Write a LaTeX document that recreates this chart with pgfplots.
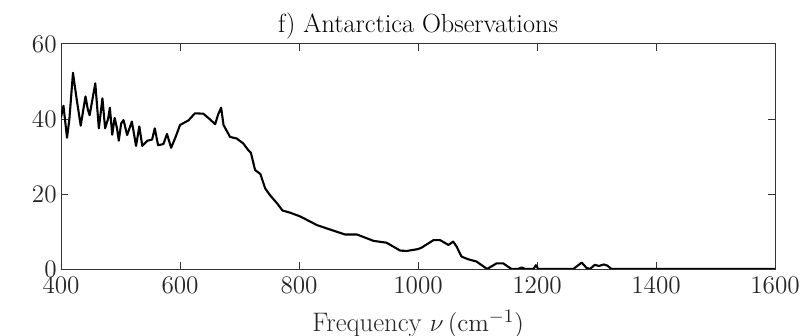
\documentclass[border=0pt]{standalone}
\usepackage{pgfplots}
\pgfplotsset{compat=1.18}
\begin{document}
\begin{tikzpicture}
\path[use as bounding box] (-34.9pt,-38.3pt) rectangle (425.1pt,153.7pt);
\begin{axis}[
  at={(0,0)}, anchor=south west,
  scale only axis, width=408pt, height=128.6pt,
  xmin=400, xmax=1600, ymin=0, ymax=60,
  xtick={400,600,...,1600}, ytick={0,20,40,60},
  tick align=inside, tick pos=both,
  major tick length=4pt,
  axis line style={black!80, line width=0.5pt},
  every tick/.style={black!80, line width=0.5pt},
  tick label style={black!85, font=\fontsize{13.5}{15}\selectfont},
  xticklabel style={/pgf/number format/1000 sep={}, yshift=-1pt},
  yticklabel style={xshift=1pt},
  title={f) Antarctica Observations},
  title style={font=\fontsize{15}{17}\selectfont, yshift=-7pt},
  xlabel={Frequency $\nu\,(\mathrm{cm}^{-1})$},
  xlabel style={black!85, font=\fontsize{15.3}{17}\selectfont, yshift=-3pt},
]
\addplot[black, line width=1.2pt, line join=round, mark=none] coordinates {
(400,40.5) (404,43.5) (410,35) (414,40) (420,52.3) (426,45.5) (433,38.2)
(441,46) (445,42.5) (448,41) (457.5,49.5) (463.5,37.5) (469.5,45.5)
(474,37.5) (479,40) (482,43) (486,35.8) (490,40.3) (494,37.5) (497,34.2)
(501,38.8) (505,39.7) (511,35.7) (519,39.3) (526,32.8) (531.5,38)
(536.5,32.8) (545,34.2) (553,34.5) (557.5,37.5) (563,33) (572,33.3)
(578,36) (585,32.3) (592,35) (600,38.4) (614,39.6) (625,41.5) (639,41.4)
(648,40.2) (659,38.6) (664,41.2) (669,43) (673,38.4) (684,35.2) (695,34.8)
(706,33.5) (714,31.8) (719,31) (726,26.4) (735,25.3) (743,21.5) (751,19.7)
(763,17.5) (772,15.6) (785,15) (802,14) (830,11.7) (858,10.2) (877,9.2)
(897,9.2) (925,7.5) (947,7) (970,4.9) (981,4.8) (1000,5.3) (1006,5.7)
(1026,7.7) (1037,7.7) (1051,6.4) (1059,7.3) (1065,5.9) (1073,3.3)
(1084,2.6) (1098,2) (1116,0) (1132,1.5) (1143,1.5) (1157,0) (1168,0)
(1174,0.4) (1180,0) (1194,0) (1198,1) (1202,0) (1261,0) (1275,1.7)
(1283,0.3) (1289,0) (1297,1.1) (1304,0.8) (1312,1.2) (1318,0.9) (1325,0)
(1600,0)
};
\end{axis}
\end{tikzpicture}
\end{document}
